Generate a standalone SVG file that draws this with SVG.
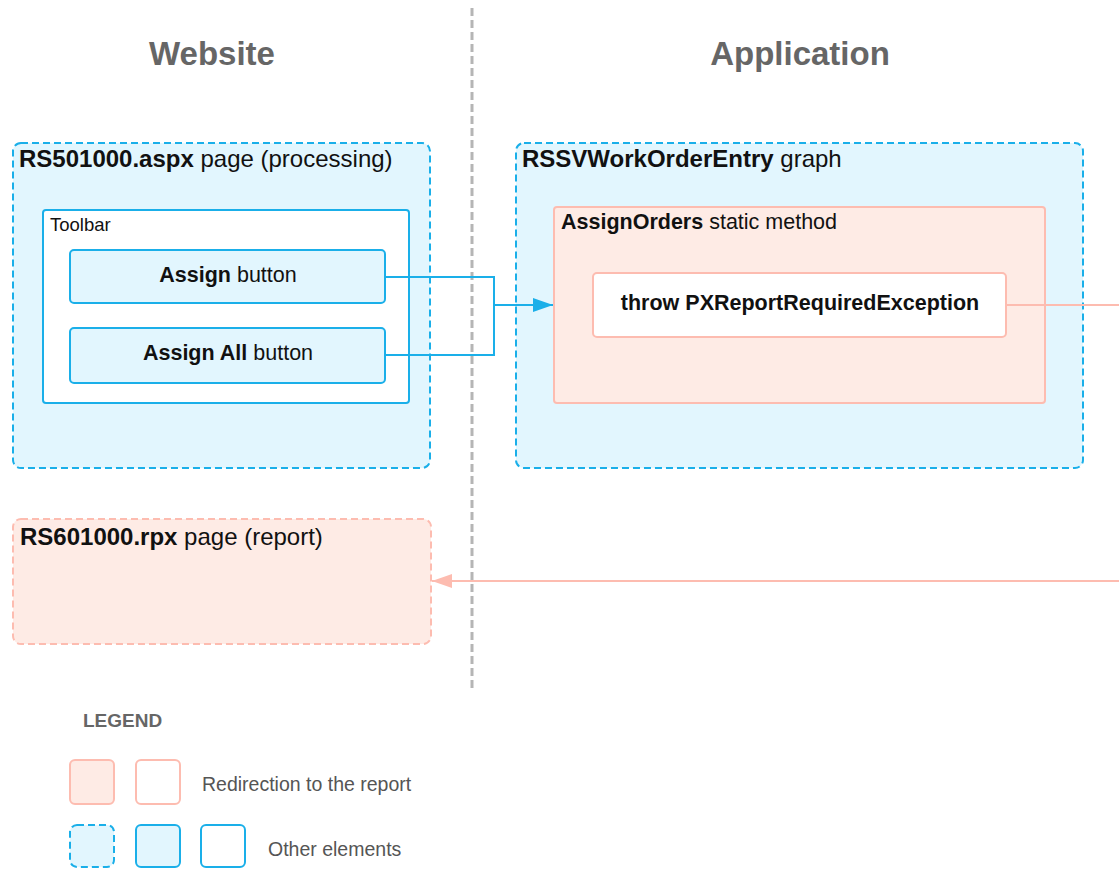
<svg xmlns="http://www.w3.org/2000/svg" width="1119" height="869" viewBox="0 0 1119 869">
<style>
text{font-family:"Liberation Sans",Arial,sans-serif;fill:#111}
.b{font-weight:bold}
.head{font-size:33px;font-weight:bold;fill:#666;text-anchor:middle}
.t24{font-size:24px}
.t21{font-size:21.5px}
.leg{font-size:19.5px;fill:#555}
.cont{fill:#e2f6fe;stroke:#1aafe9;stroke-width:2;stroke-dasharray:7 4}
.blue{fill:#e2f6fe;stroke:#1aafe9;stroke-width:2}
.bluew{fill:#fff;stroke:#1aafe9;stroke-width:2}
.redc{fill:#feebe5;stroke:#fdbcb0;stroke-width:2;stroke-dasharray:7 4}
.red{fill:#feebe5;stroke:#fdbcb0;stroke-width:2}
.redw{fill:#fff;stroke:#fdbcb0;stroke-width:2}
.cb{fill:none;stroke:#1aafe9;stroke-width:2}
.cr{fill:none;stroke:#fdbcb0;stroke-width:2}
</style>
<defs>
<marker id="ab" markerWidth="20" markerHeight="14" refX="20" refY="7" orient="auto" markerUnits="userSpaceOnUse"><path d="M0,0 L20,7 L0,14 Z" fill="#1aafe9"/></marker>
<marker id="ar" markerWidth="20" markerHeight="14" refX="20" refY="7" orient="auto" markerUnits="userSpaceOnUse"><path d="M0,0 L20,7 L0,14 Z" fill="#fdbcb0"/></marker>
</defs>
<rect width="1119" height="869" fill="#fff"/>
<line x1="472" y1="8" x2="472" y2="690" stroke="#b5b5b5" stroke-width="3" stroke-dasharray="8 4"/>
<text class="head" x="212" y="65">Website</text>
<text class="head" x="800" y="65">Application</text>

<g id="website-page">
<rect class="cont" x="13" y="143" width="417" height="325" rx="8"/>
<text class="t24" x="19" y="167"><tspan class="b">RS501000.aspx</tspan> page (processing)</text>
</g>
<g id="toolbar">
<rect class="bluew" x="43" y="210" width="366" height="193" rx="3"/>
<text x="50" y="231" style="font-size:18.5px">Toolbar</text>
</g>
<g id="assign-button">
<rect class="blue" x="70" y="250" width="315" height="53" rx="4"/>
<text class="t21" x="228" y="282" text-anchor="middle"><tspan class="b">Assign</tspan> button</text>
</g>
<g id="assign-all-button">
<rect class="blue" x="70" y="328" width="315" height="55" rx="4"/>
<text class="t21" x="228" y="360" text-anchor="middle"><tspan class="b">Assign All</tspan> button</text>
</g>

<g id="graph">
<rect class="cont" x="516" y="143" width="567" height="325" rx="8"/>
<text class="t24" x="522" y="167"><tspan class="b">RSSVWorkOrderEntry</tspan> graph</text>
</g>
<g id="assign-orders">
<rect class="red" x="554" y="207" width="491" height="196" rx="3"/>
<text class="t21" x="561" y="229"><tspan class="b">AssignOrders</tspan> static method</text>
</g>
<g id="throw">
<rect class="redw" x="593" y="273" width="413" height="64" rx="4"/>
<text class="t21 b" x="800" y="310" text-anchor="middle">throw PXReportRequiredException</text>
</g>

<g id="report-page">
<rect class="redc" x="13" y="519" width="418" height="125" rx="8"/>
<text class="t24" x="20" y="545"><tspan class="b">RS601000.rpx</tspan> page (report)</text>
</g>

<g id="connectors">
<polyline class="cb" points="385,277 494,277 494,355 385,355"/>
<line class="cb" x1="494" y1="305" x2="553" y2="305" marker-end="url(#ab)"/>
<line class="cr" x1="1006" y1="305" x2="1119" y2="305"/>
<line class="cr" x1="1119" y1="581" x2="432" y2="581" marker-end="url(#ar)"/>
</g>

<g id="legend">
<text x="83" y="727" class="b" style="font-size:19px;fill:#666">LEGEND</text>
<rect class="red" x="70" y="760" width="44" height="44" rx="5"/>
<rect class="redw" x="136" y="760" width="44" height="44" rx="5"/>
<text class="leg" x="202" y="791">Redirection to the report</text>
<rect class="cont" x="70" y="825" width="44" height="42" rx="7"/>
<rect class="blue" x="136" y="825" width="44" height="42" rx="5"/>
<rect class="bluew" x="201" y="825" width="44" height="42" rx="5"/>
<text class="leg" x="268" y="856">Other elements</text>
</g>
</svg>
